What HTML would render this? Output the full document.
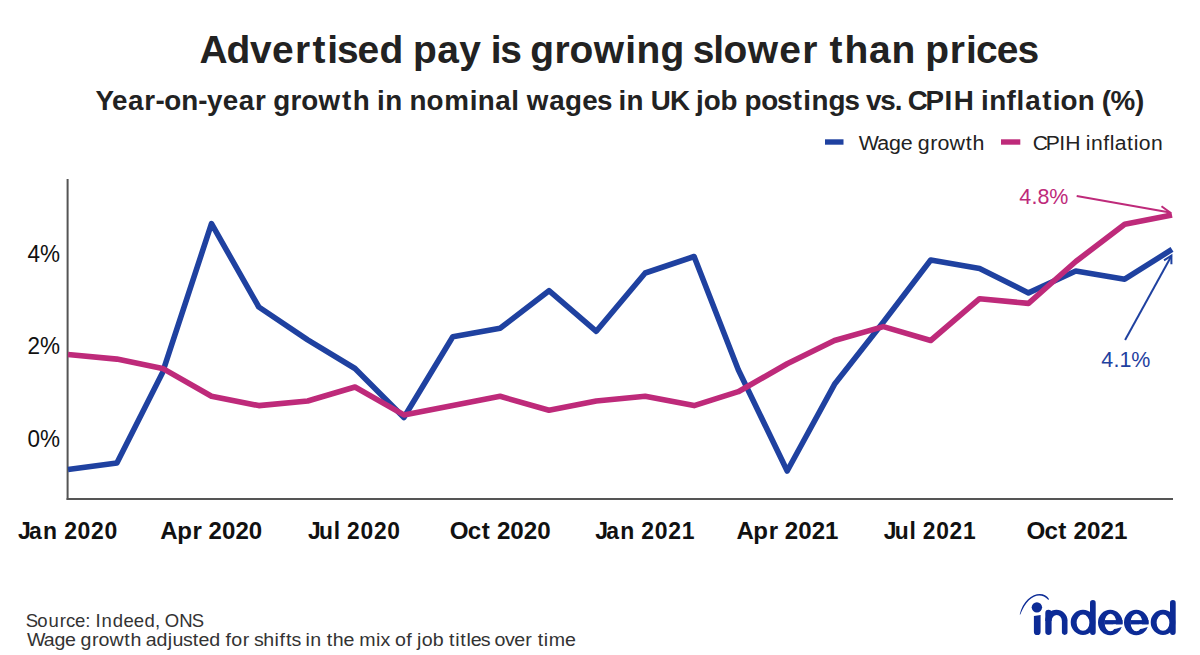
<!DOCTYPE html>
<html><head><meta charset="utf-8"><style>
html,body{margin:0;padding:0;background:#fff;}
svg{display:block;}
text{font-family:"Liberation Sans",sans-serif;}
</style></head><body>
<svg width="1200" height="655" viewBox="0 0 1200 655">
<rect width="1200" height="655" fill="#fff"/>
<text transform="translate(200.5,63) scale(0.9994,1)" x="-1.07 25.96 49.63 71.56 94.44 112.08 126.91 136.55 157.19 179.22 202.45 212.72 236.91 258.89 279.92 290.43 300.04 319.78 330.05 354.26 369.33 393.53 424.95 436.29 460.38 483.63 492.51 512.97 523.44 547.63 579.23 602.11 617.55 629.51 644.46 669.00 691.40 714.97 725.24 749.82 766.02 775.90 796.81 817.45" y="0" font-size="38.97" font-weight="bold" fill="#222">Advertised pay is growing slower than prices</text>
<text transform="translate(96.3,109.7) scale(0.9992,1)" x="-0.78 15.71 31.74 48.10 59.17 67.98 85.07 101.94 110.78 126.45 142.49 158.83 169.86 177.19 194.48 205.23 222.51 245.98 256.65 273.49 280.99 289.08 305.91 313.48 330.59 348.17 373.75 381.85 399.36 415.26 422.74 430.75 453.35 469.09 486.33 501.07 515.16 522.66 530.75 547.58 555.03 574.06 592.63 600.11 607.86 624.71 641.31 648.65 665.50 681.37 697.03 707.62 715.72 732.91 748.88 762.96 770.23 784.63 798.99 806.23 812.17 829.86 848.82 858.12 878.04 885.53 893.63 910.84 920.90 929.71 946.65 957.25 965.01 982.12 998.94 1006.21 1015.12 1039.49" y="0" font-size="27.81" font-weight="bold" fill="#222">Year-on-year growth in nominal wages in UK job postings vs. CPIH inflation (%)</text>

<rect x="825" y="139.3" width="18.5" height="5.4" fill="#1f41a0"/>
<text transform="translate(859.3,149.6) scale(1.0320,1)" x="-0.59 17.29 28.69 40.12 50.98 56.57 68.66 75.82 87.38 103.10 109.71" y="0" font-size="20.76" fill="#222">Wage growth</text>

<rect x="1001" y="139.3" width="19.3" height="5.4" fill="#be2a7a"/>
<text transform="translate(1034,149.6) scale(1.0181,1)" x="-1.29 11.43 24.74 30.74 45.18 50.84 55.98 67.90 74.39 79.40 91.33 97.99 103.00 115.02" y="0" font-size="20.76" fill="#222">CPIH inflation</text>

<text transform="translate(27.2,261.6) scale(0.9358,1)" x="0.39 13.77" y="0" font-size="24.08" fill="#111">4%</text>
<text transform="translate(27.2,354.1) scale(0.9358,1)" x="0.39 13.77" y="0" font-size="24.08" fill="#111">2%</text>
<text transform="translate(27.2,446.6) scale(0.9358,1)" x="0.39 13.77" y="0" font-size="24.08" fill="#111">0%</text>

<line x1="67.6" y1="179" x2="67.6" y2="500" stroke="#555" stroke-width="2"/>
<line x1="66.6" y1="499" x2="1173" y2="499" stroke="#555" stroke-width="2"/>
<text transform="translate(20.6,538.8) scale(0.9419,1)" x="-2.65 8.94 23.86 39.28 46.25 60.53 74.79 89.08" y="0" font-size="24.39" font-weight="bold" fill="#111">Jan 2020</text>
<text transform="translate(160.8,538.8) scale(0.9856,1)" x="-0.55 16.58 32.15 41.93 48.46 62.09 75.74 89.37" y="0" font-size="24.39" font-weight="bold" fill="#111">Apr 2020</text>
<text transform="translate(310.5,538.8) scale(0.9347,1)" x="-2.62 9.04 25.02 32.02 39.10 53.47 67.86 82.24" y="0" font-size="24.39" font-weight="bold" fill="#111">Jul 2020</text>
<text transform="translate(449.9,538.8) scale(0.9917,1)" x="-0.11 18.07 32.05 40.95 47.40 60.96 74.53 88.07" y="0" font-size="24.39" font-weight="bold" fill="#111">Oct 2020</text>
<text transform="translate(597.75,538.8) scale(0.9419,1)" x="-2.65 8.94 23.86 39.28 46.25 60.53 74.79 89.08" y="0" font-size="24.39" font-weight="bold" fill="#111">Jan 2021</text>
<text transform="translate(737,538.8) scale(0.9856,1)" x="-0.55 16.58 32.15 41.93 48.46 62.09 75.74 89.37" y="0" font-size="24.39" font-weight="bold" fill="#111">Apr 2021</text>
<text transform="translate(886.2,538.8) scale(0.9347,1)" x="-2.62 9.04 25.02 32.02 39.10 53.47 67.86 82.24" y="0" font-size="24.39" font-weight="bold" fill="#111">Jul 2021</text>
<text transform="translate(1026.6,538.8) scale(0.9917,1)" x="-0.11 18.07 32.05 40.95 47.40 60.96 74.53 88.07" y="0" font-size="24.39" font-weight="bold" fill="#111">Oct 2021</text>

<polyline points="68.0,469.5 116.9,462.9 162.6,372.4 211.5,223.7 258.8,307.0 307.7,339.8 355.0,368.5 403.9,417.5 452.8,336.8 500.1,328.3 549.0,290.7 596.3,331.3 645.2,273.0 694.1,256.5 738.3,369.7 787.2,471.0 834.5,384.3 883.4,322.0 930.7,260.0 979.6,268.6 1028.5,292.9 1075.8,271.0 1124.7,279.2 1172.0,249.4" fill="none" stroke="#1f41a0" stroke-width="5.6" stroke-linejoin="round"/>
<polyline points="68.0,354.5 116.9,359.1 162.6,368.4 211.5,396.3 258.8,405.6 307.7,401.0 355.0,387.0 403.9,414.9 452.8,405.6 500.1,396.3 549.0,410.3 596.3,401.0 645.2,396.3 694.1,405.6 738.3,391.7 787.2,363.8 834.5,340.5 883.4,326.6 930.7,340.5 979.6,298.7 1028.5,303.4 1075.8,261.5 1124.7,224.3 1172.0,215.0" fill="none" stroke="#be2a7a" stroke-width="5.6" stroke-linejoin="round"/>
<text transform="translate(1019,204) scale(0.9485,1)" x="0.28 13.07 19.58 31.93" y="0" font-size="22.62" fill="#be2a7a">4.8%</text>

<line x1="1076.7" y1="196" x2="1170" y2="212.5" stroke="#be2a7a" stroke-width="2"/>
<polyline points="1161.5,206.2 1170,212.5 1161,218" fill="none" stroke="#be2a7a" stroke-width="2"/>
<text transform="translate(1101,367) scale(0.9485,1)" x="0.28 13.07 19.58 31.93" y="0" font-size="22.62" fill="#1f41a0">4.1%</text>

<line x1="1125.1" y1="339.9" x2="1171.4" y2="256" stroke="#1f41a0" stroke-width="2"/>
<polyline points="1164,260.4 1171.4,255.6 1171.4,264.2" fill="none" stroke="#1f41a0" stroke-width="2"/>
<text transform="translate(27,626.7) scale(0.9802,1)" x="-1.20 10.55 21.89 33.38 39.90 49.05 59.40 64.30 69.85 76.10 87.54 98.49 108.95 119.88 130.70 135.61 140.54 155.36 168.02" y="0" font-size="18.89" fill="#333">Source: Indeed, ONS</text>
<text transform="translate(27.5,645.8) scale(1.0381,1)" x="-0.58 15.60 25.92 36.23 46.08 51.12 62.06 68.51 78.96 93.20 99.14 109.47 114.03 124.33 135.14 139.66 149.80 159.25 164.73 175.07 185.35 190.64 196.33 207.36 213.77 218.14 227.22 238.05 242.81 248.97 254.24 262.81 267.87 272.40 282.72 288.15 294.10 304.46 314.31 319.53 335.75 340.02 349.02 353.99 364.92 370.21 375.28 379.68 390.37 400.67 406.10 412.05 416.94 422.90 426.94 436.61 445.18 449.95 460.06 468.93 479.58 486.01 491.45 497.40 502.07 517.83" y="0" font-size="18.89" fill="#333">Wage growth adjusted for shifts in the mix of job titles over time</text>

<g fill="#0c2b96">
<path d="M1019.7,614.5 C1023.98,594.96 1042.52,588.28 1049,599 L1048.4,599.9 C1039.69,590.50 1027.42,596.04 1020.3,614.5 Z"/>
<circle cx="1036.9" cy="607.35" r="5.2"/>
<path d="M1033.9,615.9 L1040.6,615.0 V631.65 A3.35,3.35 0 0 1 1033.9,631.65 Z"/>
<rect x="1045.3" y="609.8" width="6.3" height="25.1" rx="3.15"/>
<path d="M1045.3,620.9 A11.1,11.1 0 0 1 1067.5,620.9 L1061.9,620.9 A5.15,5.8 0 0 0 1051.6,620.9 Z"/>
<path d="M1061.9,620.8 V632.1 A2.8,2.8 0 0 0 1067.5,632.1 V620.8 Z"/>
<path fill-rule="evenodd" d="M1070.70,622.35 a12.3,12.55 0 1 0 24.6,0 a12.3,12.55 0 1 0 -24.6,0 Z M1076.60,622.65 a6.4,8.15 0 1 0 12.8,0 a6.4,8.15 0 1 0 -12.8,0 Z"/><rect x="1090.00" y="600.1" width="5.7" height="34.8" rx="2.85"/>
<path fill-rule="evenodd" d="M1098.00,622.55 a12.25,12.75 0 1 0 24.5,0 a12.25,12.75 0 1 0 -24.5,0 Z M1104.60,622.55 a5.8,8.75 0 1 0 11.6,0 a5.8,8.75 0 1 0 -11.6,0 Z"/><rect x="1104.25" y="620.1" width="18.3" height="4.3"/><polygon fill="#fff" points="1113.25,624.4 1123.25,624.4 1123.25,626.5 1116.15,628.7 1113.25,629"/>
<path fill-rule="evenodd" d="M1124.00,622.55 a12.25,12.75 0 1 0 24.5,0 a12.25,12.75 0 1 0 -24.5,0 Z M1130.60,622.55 a5.8,8.75 0 1 0 11.6,0 a5.8,8.75 0 1 0 -11.6,0 Z"/><rect x="1130.25" y="620.1" width="18.3" height="4.3"/><polygon fill="#fff" points="1139.25,624.4 1149.25,624.4 1149.25,626.5 1142.15,628.7 1139.25,629"/>
<path fill-rule="evenodd" d="M1150.70,622.35 a12.3,12.55 0 1 0 24.6,0 a12.3,12.55 0 1 0 -24.6,0 Z M1156.60,622.65 a6.4,8.15 0 1 0 12.8,0 a6.4,8.15 0 1 0 -12.8,0 Z"/><rect x="1170.00" y="600.1" width="5.7" height="34.8" rx="2.85"/>
</g>
</svg>
</body></html>
